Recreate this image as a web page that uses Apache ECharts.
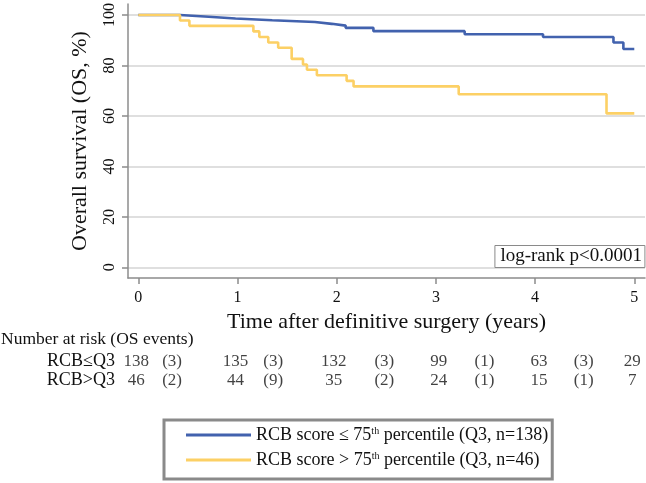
<!DOCTYPE html>
<html><head><meta charset="utf-8">
<script src="https://cdn.jsdelivr.net/npm/echarts@6/dist/echarts.min.js"></script>
<style>html,body{margin:0;padding:0;background:#fff}#c{width:646px;height:483px}</style>
</head><body><div id="c"></div>
<script>
// ---- data ----
const blueTimes = [0, 0.42, 0.71, 0.98, 1.35, 1.78, 1.95, 2.09, 2.37, 3.29, 4.08, 4.79, 4.89, 5.0];
const blueSurv  = [100, 99.3, 98.6, 97.9, 97.2, 96.5, 95.8, 94.9, 93.6, 92.4, 91.3, 89.1, 86.5, 86.5];
const yellowTimes = [0, 0.42, 0.515, 1.16, 1.22, 1.31, 1.41, 1.546, 1.66, 1.70, 1.80, 2.10, 2.17, 3.23, 4.72, 5.0];
const yellowSurv  = [100, 97.8, 95.7, 93.5, 91.3, 89.1, 87.0, 82.6, 80.4, 78.3, 76.1, 73.9, 71.7, 68.6, 61.0, 61.0];
const xTicks = [0, 1, 2, 3, 4, 5];
const yTicks = [0, 20, 40, 60, 80, 100];
const atRiskTimes = [-0.02, 0.98, 1.97, 3.03, 4.04, 4.98];
const eventTimes = [0.34, 1.36, 2.48, 3.49, 4.49];
const rowLabels = ['RCB\u2264Q3', 'RCB>Q3'];
const lowAtRisk = [138, 135, 132, 99, 63, 29];
const lowEvents = [3, 3, 3, 1, 3];
const highAtRisk = [46, 44, 35, 24, 15, 7];
const highEvents = [2, 9, 2, 1, 1];
const lowName = 'RCB score \u2264 75th percentile (Q3, n=138)';
const highName = 'RCB score > 75th percentile (Q3, n=46)';
const xTitle = 'Time after definitive surgery (years)';
const yTitle = 'Overall survival (OS, %)';
const pText = 'log-rank p<0.0001';
const riskTitle = 'Number at risk (OS events)';

// ---- chart ----
const FONT = '"Liberation Serif", "Times New Roman", serif';
const BLUE = '#4262ae';
const YELLOW = '#fcd065';
const AXIS = '#8c8c8c';
const xMin = -0.104, xMax = 5.108, yMin = -4.22, yMax = 104.34;

function riskRow(label, atRisk, events) {
  const out = [];
  atRisk.forEach((v, i) => out.push([atRiskTimes[i], label, String(v)]));
  events.forEach((v, i) => out.push([eventTimes[i], label, '(' + v + ')']));
  return out;
}

const chart = echarts.init(document.getElementById('c'), null, {renderer: 'canvas'});
const option = {
  animation: false,
  backgroundColor: '#fff',
  textStyle: {fontFamily: FONT},
  grid: [
    {left: 128, right: 1, top: 3, height: 275},
    {left: 128, right: 1, top: 352, height: 38}
  ],
  title: {
    text: pText, right: 1, top: 245,
    textStyle: {fontSize: 19, fontWeight: 'normal', fontFamily: FONT, color: '#111'},
    borderColor: '#8a8a8a', borderWidth: 1, padding: [2, 3, 2, 6]
  },
  legend: {
    orient: 'vertical', left: 164, top: 420,
    itemWidth: 65, itemHeight: 3, itemGap: 7, icon: 'rect',
    borderColor: '#8a8a8a', borderWidth: 3, padding: [6, 4, 10, 22],
    textStyle: {fontSize: 18, fontFamily: FONT, color: '#111',
      rich: {sup: {fontSize: 10, fontFamily: FONT, color: '#111', verticalAlign: 'top', lineHeight: 18}}},
    formatter: n => n.replace('75th', '75{sup|th}'),
    data: [lowName, highName]
  },
  graphic: [
    {type: 'text', left: 1, top: 330, style: {text: riskTitle, font: '17.5px ' + FONT, fill: '#111'}}
  ],
  xAxis: [
    {gridIndex: 0, type: 'value', min: xMin, max: xMax,
      name: xTitle, nameLocation: 'middle', nameGap: 28,
      nameTextStyle: {fontSize: 22, color: '#111', fontFamily: FONT},
      axisLine: {show: true, onZero: false, lineStyle: {color: AXIS, width: 1.5}},
      axisTick: {show: true, length: 6, customValues: xTicks, lineStyle: {color: AXIS, width: 1.5}},
      axisLabel: {customValues: xTicks, fontSize: 16, color: '#111', margin: 12, fontFamily: FONT},
      splitLine: {show: false}},
    {gridIndex: 1, type: 'value', min: xMin, max: xMax, show: false}
  ],
  yAxis: [
    {gridIndex: 0, type: 'value', min: yMin, max: yMax,
      name: yTitle, nameLocation: 'middle', nameGap: 37,
      nameTextStyle: {fontSize: 22, color: '#111', fontFamily: FONT},
      axisLine: {show: true, onZero: false, lineStyle: {color: AXIS, width: 1.5}},
      axisTick: {show: true, length: 6, customValues: yTicks, lineStyle: {color: AXIS, width: 1.5}},
      axisLabel: {customValues: yTicks, rotate: 90, fontSize: 16, color: '#111', margin: 10, fontFamily: FONT},
      splitLine: {show: true, lineStyle: {color: '#d4d4d4', width: 1.5}}},
    {gridIndex: 1, type: 'category', data: rowLabels, inverse: true,
      axisLine: {show: false}, axisTick: {show: false}, splitLine: {show: false},
      axisLabel: {interval: 0, fontSize: 18, color: '#111', margin: 13, fontFamily: FONT}}
  ],
  series: [
    {type: 'line', name: lowName, xAxisIndex: 0, yAxisIndex: 0, step: 'end', symbol: 'none',
      data: blueTimes.map((t, i) => [t, blueSurv[i]]),
      lineStyle: {color: BLUE, width: 2.6}, itemStyle: {color: BLUE}},
    {type: 'line', name: highName, xAxisIndex: 0, yAxisIndex: 0, step: 'end', symbol: 'none',
      data: yellowTimes.map((t, i) => [t, yellowSurv[i]]),
      lineStyle: {color: YELLOW, width: 2.6}, itemStyle: {color: YELLOW}},
    {type: 'scatter', name: 'risk', xAxisIndex: 1, yAxisIndex: 1, symbolSize: 1, silent: true,
      itemStyle: {color: 'rgba(0,0,0,0)'},
      data: riskRow(rowLabels[0], lowAtRisk, lowEvents).concat(riskRow(rowLabels[1], highAtRisk, highEvents)),
      label: {show: true, position: 'inside', formatter: p => p.data[2], fontSize: 17, color: '#111', fontFamily: FONT}}
  ]
};
chart.setOption(option);
</script>
</body></html>
